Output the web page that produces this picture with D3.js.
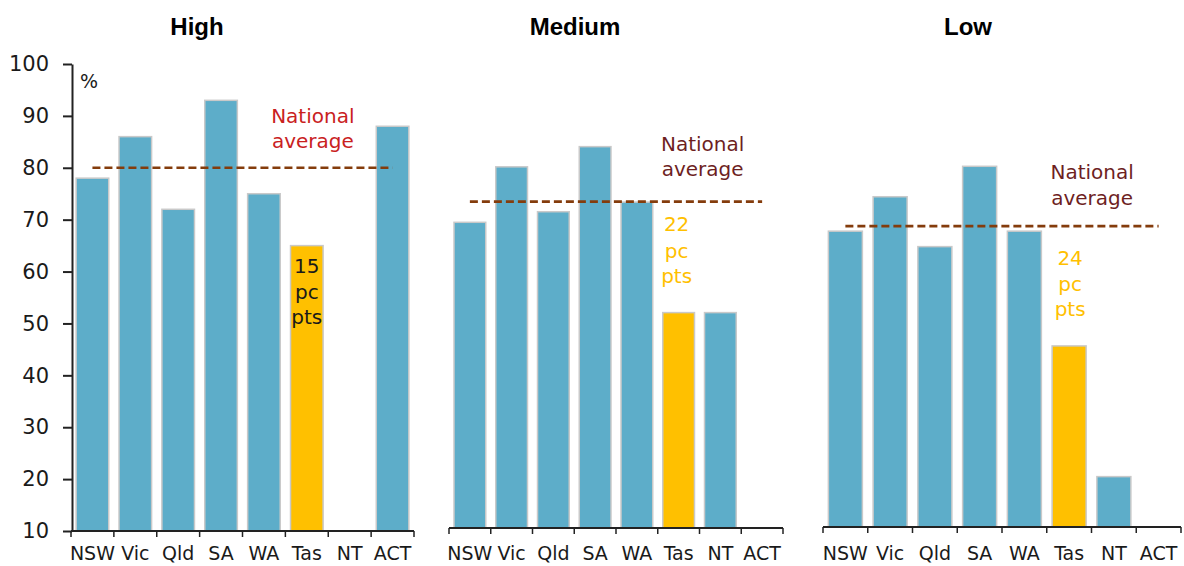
<!DOCTYPE html>
<html>
<head>
<meta charset="utf-8">
<script src="https://cdn.jsdelivr.net/npm/d3@7"></script>
<style>
  html, body { margin: 0; padding: 0; background: #fff; }
  svg { display: block; }
</style>
</head>
<body>
<svg id="chart" width="1184" height="566"></svg>
<script>
// ---------- data ----------
const categories = ["NSW", "Vic", "Qld", "SA", "WA", "Tas", "NT", "ACT"];
const panelTitles = ["High", "Medium", "Low"];
const highValues   = [78, 86, 72, 93, 75, 65, null, 88];
const mediumValues = [70.6, 81.6, 72.7, 85.6, 74.6, 52.7, 52.7, null];
const lowValues    = [69.3, 76.2, 66.2, 82.3, 69.3, 46.3, 20.1, null];
const nationalAverages = [80, 74.7, 70.3];
const gapLabels = ["15", "22", "24"];
const yTicks = [10, 20, 30, 40, 50, 60, 70, 80, 90, 100];
const highlightCategory = "Tas";

// ---------- layout / style ----------
const FONT = "'DejaVu Sans', sans-serif";
const BAR = "#5DADC9", BAR_STROKE = "#C9C9C9", HILITE = "#FFC000";
const AVG_LINE = "#843C0C";
const panels = [
  { values: highValues, x0: 71, x1: 414, yb: 531, yt: 64, titleX: 197, showY: true,
    natColor: "#C9211E", natDx: 6, natDy: [-45, -20],
    gapInside: true, gapColor: "#1a1a1a", gapDx: 0, gapDy: [27, 53, 78] },
  { values: mediumValues, x0: 449, x1: 783, yb: 528, yt: 74, titleX: 575, showY: false,
    natColor: "#6E1F1F", natDx: 24, natDy: [-51, -26],
    gapInside: false, gapColor: HILITE, gapDx: -2, gapDy: [29, 56, 81] },
  { values: lowValues, x0: 823, x1: 1181, yb: 527, yt: 78, titleX: 968, showY: false,
    natColor: "#6E1F1F", natDx: 23, natDy: [-47, -21],
    gapInside: false, gapColor: HILITE, gapDx: 1, gapDy: [39, 65, 90] }
];

const svg = d3.select("#chart");

panels.forEach((p, pi) => {
  const g = svg.append("g");
  const x = d3.scaleBand().domain(categories).range([p.x0, p.x1])
    .paddingInner(0.24).paddingOuter(0.12);
  const y = d3.scaleLinear().domain([10, 100]).range([p.yb, p.yt]);
  const data = categories.map((c, i) => ({ c, v: p.values[i] }));

  // title
  g.append("text").attr("x", p.titleX).attr("y", 35)
    .attr("text-anchor", "middle")
    .style("font-family", "'Liberation Sans', Arial, sans-serif")
    .style("font-weight", "bold").style("font-size", "24px").attr("fill", "#000")
    .text(panelTitles[pi]);

  // bars
  g.selectAll("rect.bar").data(data.filter(d => d.v != null)).join("rect")
    .attr("class", "bar")
    .attr("x", d => x(d.c)).attr("width", x.bandwidth())
    .attr("y", d => y(d.v)).attr("height", d => y(10) - y(d.v))
    .attr("fill", d => d.c === highlightCategory ? HILITE : BAR)
    .attr("stroke", BAR_STROKE).attr("stroke-width", 1.5);

  // x axis labels
  const xAxis = g.append("g").attr("transform", `translate(0,${p.yb})`)
    .call(d3.axisBottom(x).tickSize(0));
  xAxis.select(".domain").remove();
  xAxis.selectAll("text").attr("dy", null).attr("y", 560 - p.yb)
    .style("font-family", FONT).style("font-size", "19px").attr("fill", "#1a1a1a");

  // x axis line and boundary ticks
  const bounds = d3.range(categories.length + 1).map(i => p.x0 + i * x.step());
  g.append("line").attr("x1", p.x0).attr("x2", p.x1).attr("y1", p.yb).attr("y2", p.yb)
    .attr("stroke", "#222").attr("stroke-width", 2);
  g.selectAll("line.btick").data(bounds).join("line").attr("class", "btick")
    .attr("x1", d => d).attr("x2", d => d).attr("y1", p.yb).attr("y2", p.yb + 6)
    .attr("stroke", "#222").attr("stroke-width", 1.5);

  // y axis (first panel only)
  if (p.showY) {
    const yAxis = g.append("g").attr("transform", `translate(${p.x0 + 1},0)`)
      .call(d3.axisLeft(y).tickValues(yTicks).tickSize(9).tickSizeOuter(0).tickPadding(14));
    yAxis.select(".domain").attr("stroke", "#222").attr("stroke-width", 2);
    yAxis.selectAll(".tick line").attr("stroke", "#222").attr("stroke-width", 2);
    yAxis.selectAll("text").style("font-family", FONT).style("font-size", "21px")
      .attr("fill", "#1a1a1a");
    g.append("text").attr("x", 80).attr("y", 88)
      .style("font-family", FONT).style("font-size", "19px").attr("fill", "#1a1a1a")
      .text("%");
  }

  // national average dashed line (NSW centre to ACT centre)
  const avg = nationalAverages[pi];
  const cx = c => x(c) + x.bandwidth() / 2;
  g.append("line")
    .attr("x1", cx(categories[0])).attr("x2", cx(categories[categories.length - 1]))
    .attr("y1", y(avg)).attr("y2", y(avg))
    .attr("stroke", AVG_LINE).attr("stroke-width", 2.6).attr("stroke-dasharray", "8,4");

  // "National average" label
  ["National", "average"].forEach((t, i) => {
    g.append("text").attr("x", cx(highlightCategory) + p.natDx).attr("y", y(avg) + p.natDy[i])
      .attr("text-anchor", "middle")
      .style("font-family", FONT).style("font-size", "20px").attr("fill", p.natColor)
      .text(t);
  });

  // gap label
  const tasVal = p.values[categories.indexOf(highlightCategory)];
  const baseY = p.gapInside ? y(tasVal) : y(avg);
  [gapLabels[pi], "pc", "pts"].forEach((t, i) => {
    g.append("text").attr("x", cx(highlightCategory) + p.gapDx).attr("y", baseY + p.gapDy[i])
      .attr("text-anchor", "middle")
      .style("font-family", FONT).style("font-size", "20px").attr("fill", p.gapColor)
      .text(t);
  });
});
</script>
</body>
</html>
